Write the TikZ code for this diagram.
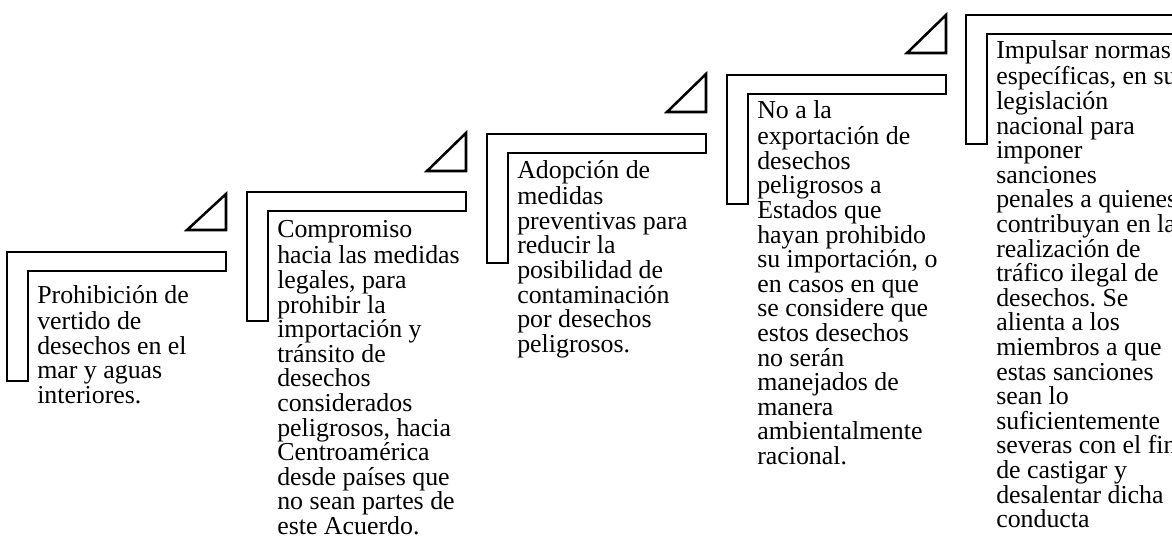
\documentclass[tikz,border=0pt]{standalone}
\usepackage{fontspec}
\setmainfont{Liberation Serif}
\usepackage{tikz}
\usetikzlibrary{positioning}
\frenchspacing

\newcommand{\pasofont}{\fontsize{19.4pt}{18.45pt}\selectfont}

\begin{document}
\begin{tikzpicture}[x=0.75pt, y=-0.75pt,
  pasoL/.style={draw=black, line width=1.9pt},
  flecha/.style={draw=black, line width=1.9pt},
  pasotexto/.style={anchor=north west, align=left, inner sep=0pt, font=\pasofont}]

  \useasboundingbox (0,0) rectangle (1172,539);
  \clip (0,0) rectangle (1172,539);

  % Escalones
  \draw[pasoL] (7,252) -- (226,252) -- (226,271) -- (28,271) -- (28,381) -- (7,381) -- cycle;
  \draw[pasoL] (247,192) -- (466,192) -- (466,211) -- (268,211) -- (268,321) -- (247,321) -- cycle;
  \draw[pasoL] (487,134) -- (706,134) -- (706,153) -- (508,153) -- (508,263) -- (487,263) -- cycle;
  \draw[pasoL] (727,75) -- (946,75) -- (946,94) -- (748,94) -- (748,204) -- (727,204) -- cycle;
  \draw[pasoL] (966,15) -- (1185,15) -- (1185,34) -- (987,34) -- (987,144) -- (966,144) -- cycle;

  % Triangulos
  \draw[flecha] (187,230) -- (226,194) -- (226,230) -- cycle;
  \draw[flecha] (427,171) -- (466,133) -- (466,171) -- cycle;
  \draw[flecha] (667,112) -- (706,74) -- (706,112) -- cycle;
  \draw[flecha] (907,53) -- (946,15) -- (946,53) -- cycle;

  % Textos
  \node[pasotexto] (p1) at (37,284.8) {\strut Prohibición de\\vertido de\\desechos en el\\mar y aguas\\interiores.};
  \node[pasotexto] (p2) at (277,219.8) {\strut Compromiso\\hacia las medidas\\legales, para\\prohibir la\\importación y\\tránsito de\\desechos\\considerados\\peligrosos, hacia\\Centroamérica\\desde países que\\no sean partes de\\este Acuerdo.};
  \node[pasotexto] (p3) at (517,159.8) {\strut Adopción de\\medidas\\preventivas para\\reducir la\\posibilidad de\\contaminación\\por desechos\\peligrosos.};
  \node[pasotexto] (p4) at (757,99.8) {\strut No a la\\exportación de\\desechos\\peligrosos a\\Estados que\\hayan prohibido\\su importación, o\\en casos en que\\se considere que\\estos desechos\\no serán\\manejados de\\manera\\ambientalmente\\racional.};
  \node[pasotexto] (p5) at (996,39.8) {\strut Impulsar normas\\específicas, en su\\legislación\\nacional para\\imponer\\sanciones\\penales a quienes\\contribuyan en la\\realización de\\tráfico ilegal de\\desechos. Se\\alienta a los\\miembros a que\\estas sanciones\\sean lo\\suficientemente\\severas con el fin\\de castigar y\\desalentar dicha\\conducta};

\end{tikzpicture}
\end{document}
